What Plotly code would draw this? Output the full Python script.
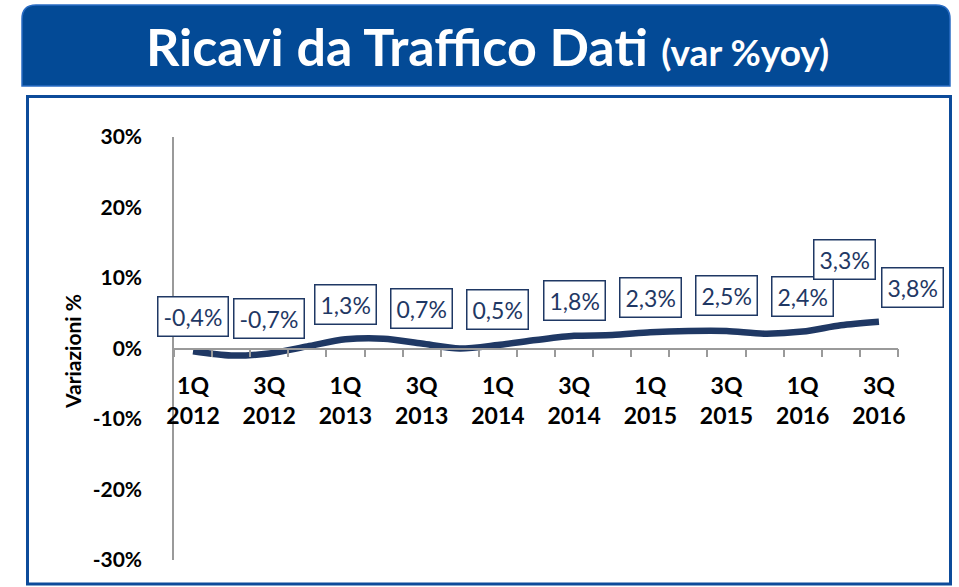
import plotly.graph_objects as go

# ---------------- data ----------------
quarters = ["1Q 2012", "2Q 2012", "3Q 2012", "4Q 2012",
            "1Q 2013", "2Q 2013", "3Q 2013", "4Q 2013",
            "1Q 2014", "2Q 2014", "3Q 2014", "4Q 2014",
            "1Q 2015", "2Q 2015", "3Q 2015", "4Q 2015",
            "1Q 2016", "2Q 2016", "3Q 2016"]
values = [-0.4, -1.0, -0.7, 0.3, 1.3, 1.4, 0.7, 0.0, 0.5, 1.2,
          1.8, 1.9, 2.3, 2.5, 2.5, 2.1, 2.4, 3.3, 3.8]
show_label = [1, 0, 1, 0, 1, 0, 1, 0, 1, 0,
              1, 0, 1, 0, 1, 0, 1, 1, 1]
y_ticks = [-30, -20, -10, 0, 10, 20, 30]
y_ticktext = ["-30%", "-20%", "-10%", "0%", "10%", "20%", "30%"]
title_main = "Ricavi da Traffico Dati"
title_sub = "(var %yoy)"
y_title = "Variazioni %"

# ---------------- geometry helpers ----------------
W, H = 959, 587
L, R, T, B = 174, 898, 137, 560


def px(x):
    return (x - L) / (R - L)


def py(y):
    return (B - y) / (B - T)


NAVY = "#1F3864"
GRAY = "#9A9A9A"
FONT = "Lato"

xs = list(range(len(quarters)))

fig = go.Figure()
fig.add_trace(go.Scatter(
    x=xs, y=values, mode="lines",
    line=dict(color=NAVY, width=6.5, shape="spline", smoothing=0.8),
    hoverinfo="skip", showlegend=False,
))

# tick labels every other quarter
tickvals = [i for i in xs if i % 2 == 0]
ticktext = [quarters[i].replace(" ", "<br>") for i in tickvals]

# data labels
special = {17: dict(xshift=4, yshift=66), 18: dict(xshift=34, yshift=34)}
annotations = []
for i, (v, s) in enumerate(zip(values, show_label)):
    if not s:
        continue
    txt = f"{v:.1f}".replace(".", ",") + "%"
    off = special.get(i, dict(xshift=0, yshift=35))
    annotations.append(dict(
        x=i, y=v, xref="x", yref="y", text=txt, showarrow=False,
        font=dict(family=FONT, size=23, color=NAVY),
        bgcolor="white", bordercolor=NAVY, borderwidth=1.5, borderpad=5,
        **off,
    ))

# y axis title
annotations.append(dict(
    x=px(72), y=py(352), xref="paper", yref="paper", text=f"<b>{y_title}</b>",
    textangle=-90, showarrow=False,
    font=dict(family=FONT, size=21, color="black"),
    xanchor="center", yanchor="middle",
))

# banner title
annotations.append(dict(
    x=px(487), y=py(46), xref="paper", yref="paper",
    text=f"<b>{title_main}</b> <span style='font-size:37px'><b>{title_sub}</b></span>",
    showarrow=False, font=dict(family=FONT, size=52, color="white"),
    xanchor="center", yanchor="middle",
))

# banner shape with rounded top corners
x0, x1, yt, yb, r = 22, 950, 5, 86, 14
path = (f"M {px(x0)},{py(yb)} L {px(x0)},{py(yt + r)} "
        f"Q {px(x0)},{py(yt)} {px(x0 + r)},{py(yt)} "
        f"L {px(x1 - r)},{py(yt)} Q {px(x1)},{py(yt)} {px(x1)},{py(yt + r)} "
        f"L {px(x1)},{py(yb)} Z")
shapes = [
    dict(type="path", path=path, xref="paper", yref="paper",
         fillcolor="#034A96", line=dict(color="#2A6CC4", width=1.5), layer="below"),
    dict(type="rect", xref="paper", yref="paper",
         x0=px(27.5), x1=px(950.5), y0=py(584), y1=py(96.5),
         line=dict(color="#0D4B9A", width=3), fillcolor="rgba(0,0,0,0)", layer="below"),
]

fig.update_layout(
    width=W, height=H,
    margin=dict(l=L, r=W - R, t=T, b=H - B, pad=0),
    paper_bgcolor="white", plot_bgcolor="white",
    showlegend=False,
    shapes=shapes, annotations=annotations,
    xaxis=dict(
        range=[-0.5, len(quarters) - 0.5],
        anchor="free", position=0.5,
        showline=True, linecolor=GRAY, linewidth=1.5,
        showgrid=False, zeroline=False,
        tickmode="array", tickvals=tickvals, ticktext=ticktext,
        ticks="outside", ticklen=0, tickcolor=GRAY,
        ticklabelstandoff=17,
        tickfont=dict(family=FONT, size=23, color="black", weight="bold"),
        minor=dict(tickmode="linear", tick0=-0.5, dtick=1, ticks="outside",
                   ticklen=8, tickcolor=GRAY, tickwidth=1.5, showgrid=False),
    ),
    yaxis=dict(
        range=[-30, 30], domain=[0, 1],
        showline=True, linecolor=GRAY, linewidth=1.5,
        showgrid=False, zeroline=False,
        tickmode="array", tickvals=y_ticks, ticktext=y_ticktext,
        ticks="", ticklabelstandoff=26,
        tickfont=dict(family=FONT, size=21, color="black", weight="bold"),
    ),
)

fig.write_html(
    "out.html",
    config={"displayModeBar": False},
    post_script="document.body.style.margin='0';document.body.style.padding='0';",
)
